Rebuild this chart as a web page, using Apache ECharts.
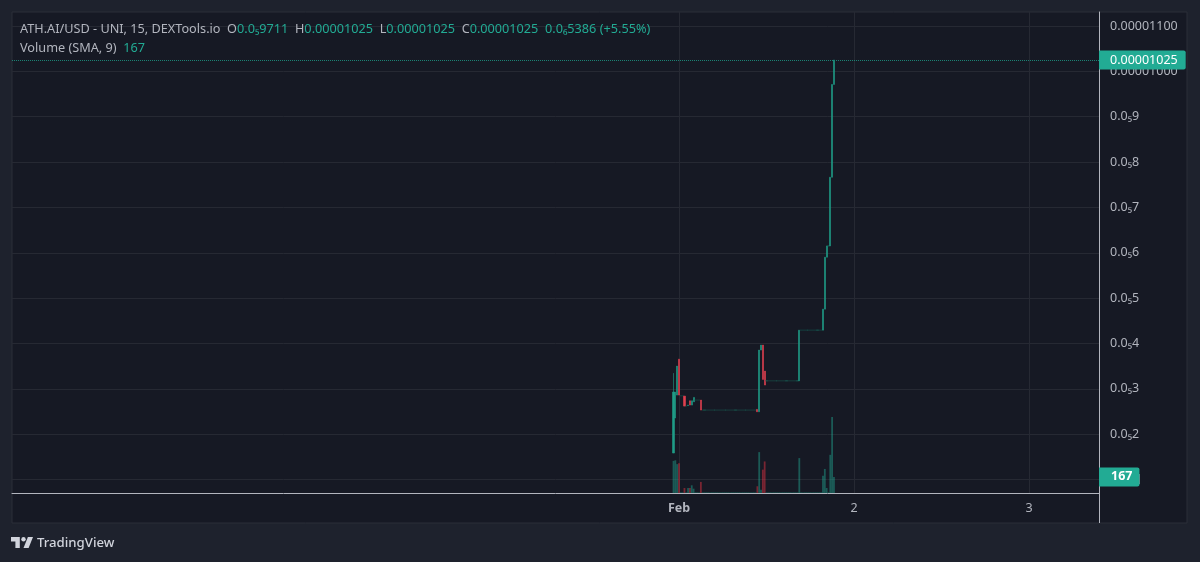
<!DOCTYPE html>
<html>
<head>
<meta charset="utf-8">
<style>html,body{margin:0;padding:0;background:#1e222d}#main{width:1200px;height:562px}</style>
<script src="https://cdn.jsdelivr.net/npm/echarts@6/dist/echarts.min.js"></script>
</head>
<body>
<div id="main"></div>
<script>
// prices are in millionths of a dollar, time is 15 minute bars counted from Feb 1 00:00
var barIndex = [-3,-2,-1,0,1,2,3,4,5,6,7,8,9,10,11,12,13,14,15,16,17,18,19,20,21,22,23,24,25,26,27,28,29,30,31,32,33,34,35,36,37,38,39,40,41,42,43,44,45,46,47,48,49,50,51,52,53,54,55,56,57,58,59,60,61,62,63,64,65,66,67,68,69,70,71,72,73,74,75,76,77,78,79,80,81,82,83,84,85];
var opens = [1.586,2.357,2.863,3.656,2.848,2.848,2.841,2.621,2.632,2.738,2.643,2.716,2.753,2.753,2.753,2.753,2.533,2.533,2.533,2.533,2.533,2.533,2.533,2.533,2.533,2.533,2.533,2.533,2.533,2.533,2.533,2.533,2.533,2.533,2.533,2.533,2.533,2.533,2.533,2.533,2.533,2.533,2.533,2.533,2.533,2.533,2.548,2.496,3.855,3.965,3.392,3.178,3.178,3.178,3.178,3.178,3.178,3.178,3.178,3.178,3.178,3.178,3.178,3.178,3.178,3.178,3.178,3.178,3.178,3.178,4.295,4.295,4.295,4.295,4.295,4.295,4.295,4.295,4.295,4.295,4.295,4.295,4.295,4.758,5.903,6.152,6.152,7.665,9.711];
var closes = [2.930,2.930,3.502,2.863,2.848,2.848,2.621,2.621,2.643,2.643,2.738,2.812,2.753,2.753,2.753,2.533,2.533,2.533,2.533,2.533,2.533,2.533,2.533,2.533,2.533,2.533,2.533,2.533,2.533,2.533,2.533,2.533,2.533,2.533,2.533,2.533,2.533,2.533,2.533,2.533,2.533,2.533,2.533,2.533,2.533,2.533,2.496,3.855,3.965,3.209,3.084,3.178,3.178,3.178,3.178,3.178,3.178,3.178,3.178,3.178,3.178,3.178,3.178,3.178,3.178,3.178,3.178,3.178,3.178,4.295,4.295,4.295,4.295,4.295,4.295,4.295,4.295,4.295,4.295,4.295,4.295,4.295,4.758,5.903,6.152,6.152,7.665,9.711,10.25];
var lows = [1.586,2.357,2.863,2.863,2.848,2.848,2.621,2.621,2.632,2.643,2.643,2.716,2.753,2.753,2.753,2.533,2.533,2.533,2.533,2.533,2.533,2.533,2.533,2.533,2.533,2.533,2.533,2.533,2.533,2.533,2.533,2.533,2.533,2.533,2.533,2.533,2.533,2.533,2.533,2.533,2.533,2.533,2.533,2.533,2.533,2.533,2.496,2.496,3.855,3.209,3.084,3.178,3.178,3.178,3.178,3.178,3.178,3.178,3.178,3.178,3.178,3.178,3.178,3.178,3.178,3.178,3.178,3.178,3.178,3.178,4.295,4.295,4.295,4.295,4.295,4.295,4.295,4.295,4.295,4.295,4.295,4.295,4.295,4.758,5.903,6.152,6.152,7.665,9.711];
var highs = [3.348,2.930,3.502,3.656,2.848,2.848,2.841,2.621,2.643,2.738,2.738,2.812,2.753,2.753,2.753,2.753,2.533,2.533,2.533,2.533,2.533,2.533,2.533,2.533,2.533,2.533,2.533,2.533,2.533,2.533,2.533,2.533,2.533,2.533,2.533,2.533,2.533,2.533,2.533,2.533,2.533,2.533,2.533,2.533,2.533,2.533,2.548,3.855,3.965,3.965,3.392,3.178,3.178,3.178,3.178,3.178,3.178,3.178,3.178,3.178,3.178,3.178,3.178,3.178,3.178,3.178,3.178,3.178,3.178,4.295,4.295,4.295,4.295,4.295,4.295,4.295,4.295,4.295,4.295,4.295,4.295,4.295,4.758,5.903,6.152,6.152,7.665,9.711,10.25];
var volumes = [334,340,300,310,6,6,52,6,52,52,80,45,6,6,6,115,6,6,6,6,6,6,6,6,6,6,6,6,6,6,6,6,6,6,6,6,6,6,6,6,6,6,6,6,6,6,70,425,35,243,328,6,6,6,6,6,6,6,6,6,6,6,6,6,6,6,6,6,6,363,6,6,6,6,6,6,6,6,6,6,6,6,180,250,52,6,397,790,167];
var priceTicks = [1,2,3,4,5,6,7,8,9,10,11];
var priceLabels = [2,3,4,5,6,7,8,9,10,11];
var dayTicks = [0,24,48];
var dayLabels = {0:'Feb',24:'2',48:'3'};
var lastPrice = 10.25;
var lastVolume = 167;

var UP = '#22ab94', DOWN = '#f23645';
var FONT = '"Noto Sans", sans-serif';

var candleData = [], volumeData = [];
for (var i = 0; i < barIndex.length; i++) {
	var hour = barIndex[i] / 4;
	candleData.push([hour, opens[i], closes[i], lows[i], highs[i]]);
	volumeData.push({
		value: [hour, volumes[i]],
		itemStyle: {color: closes[i] < opens[i] ? 'rgba(242,54,69,0.45)' : 'rgba(34,171,148,0.45)'}
	});
}

function priceText(v) {
	if (v >= 10) return (v / 1e6).toFixed(8);
	return '0.0\u2085' + v;
}

var chart = echarts.init(document.getElementById('main'));
chart.setOption({
	animation: false,
	backgroundColor: '#1e222d',
	textStyle: {fontFamily: FONT},
	title: [{
		left: 15, top: 18,
		text: '{g|ATH.AI/USD - UNI, 15, DEXTools.io  O}{t|0.0\u20859711}{g|  H}{t|0.00001025}{g|  L}{t|0.00001025}{g|  C}{t|0.00001025}{t|  0.0\u20865386 (+5.55%)}',
		textStyle: {fontWeight: 'normal', rich: {
			g: {color: '#b2b5be', fontSize: 12.7, fontFamily: FONT},
			t: {color: '#22ab94', fontSize: 12.7, fontFamily: FONT}
		}}
	}, {
		left: 15, top: 37,
		text: '{g|Volume (SMA, 9)}{t|  167}',
		textStyle: {fontWeight: 'normal', rich: {
			g: {color: '#b2b5be', fontSize: 12.7, fontFamily: FONT},
			t: {color: '#22ab94', fontSize: 12.7, fontFamily: FONT}
		}}
	}],
	grid: {left: 12, right: 101, top: 12, bottom: 69},
	xAxis: {
		type: 'value',
		min: -91.47, max: 57.6,
		axisLine: {onZero: false, lineStyle: {color: '#b2b5be', width: 1}},
		axisTick: {show: false, customValues: dayTicks},
		splitLine: {show: true, lineStyle: {color: '#262933'}},
		axisLabel: {
			customValues: dayTicks,
			color: '#b2b5be', fontSize: 12.5, margin: 9,
			formatter: function (v) { return v === 0 ? '{b|Feb}' : dayLabels[v]; },
			rich: {b: {fontWeight: 'bold', color: '#b2b5be', fontSize: 12.5}}
		}
	},
	yAxis: [{
		type: 'value', position: 'right',
		min: 0.705, max: 11.308, scale: true,
		axisLine: {show: true, onZero: false, lineStyle: {color: '#b2b5be'}},
		axisTick: {show: false, customValues: priceTicks},
		splitLine: {show: true, lineStyle: {color: '#262933'}},
		axisLabel: {
			customValues: priceLabels,
			color: '#b2b5be', fontSize: 12.5, margin: 11,
			formatter: priceText
		}
	}, {
		type: 'value', min: 0, max: 5000, show: false, splitLine: {show: false}
	}],
	series: [{
		type: 'bar', yAxisIndex: 1, barWidth: 1.8, silent: true,
		data: volumeData,
		markLine: {
			silent: true, symbol: 'none', animation: false,
			lineStyle: {color: 'transparent', width: 0},
			label: {
				position: 'end', distance: 0, formatter: String(lastVolume),
				backgroundColor: UP, color: '#fff', fontSize: 12.5, fontWeight: 'bold',
				padding: [3, 7, 3, 12], borderRadius: [0, 2, 2, 0]
			},
			data: [{yAxis: lastVolume}]
		}
	}, {
		type: 'candlestick', barWidth: 1.6, silent: true, z: 3,
		encode: {x: 0, y: [1, 2, 3, 4]},
		itemStyle: {
			color: '#1f9c87', color0: '#e0404f', borderColor: '#1f9c87', borderColor0: '#e0404f',
			borderColorDoji: '#1a5f56', borderWidth: 0.6
		},
		data: candleData,
		markLine: {
			silent: true, symbol: 'none', animation: false, z: 10,
			lineStyle: {color: '#1b8374', type: 'dotted', width: 1},
			label: {
				position: 'end', distance: 0, formatter: (lastPrice / 1e6).toFixed(8),
				backgroundColor: UP, color: '#fff', fontSize: 12.5,
				padding: [3, 8, 3, 11], borderRadius: [0, 2, 2, 0]
			},
			data: [{yAxis: lastPrice}]
		}
	}],
	graphic: [
		{type: 'rect', z: -10, silent: true, shape: {x: 12, y: 12, width: 1175, height: 511},
			style: {fill: '#161924', stroke: '#2a2e39', lineWidth: 1}},
		{type: 'line', z: 1, silent: true, shape: {x1: 1099.5, y1: 493, x2: 1099.5, y2: 523},
			style: {stroke: '#b2b5be', lineWidth: 1}},
		{type: 'rect', z: 1, silent: true, shape: {x: 1138, y: 474, width: 2, height: 10},
			style: {fill: '#787b86'}},
		// TradingView logo
		{type: 'polygon', silent: true, shape: {points: [[19.8,537],[11,537],[11,541.4],[15.4,541.4],[15.4,548],[19.8,548]]}, style: {fill: '#d1d4dc'}},
		{type: 'polygon', silent: true, shape: {points: [[28.6,548],[23.5,548],[27.9,537],[33,537]]}, style: {fill: '#d1d4dc'}},
		{type: 'circle', silent: true, shape: {cx: 23.5, cy: 539.2, r: 2.2}, style: {fill: '#d1d4dc'}},
		{type: 'text', silent: true, x: 37, y: 543,
			style: {text: 'TradingView', fill: '#d1d4dc', font: '500 13.2px ' + FONT, textVerticalAlign: 'middle'}}
	]
});
</script>
</body>
</html>
